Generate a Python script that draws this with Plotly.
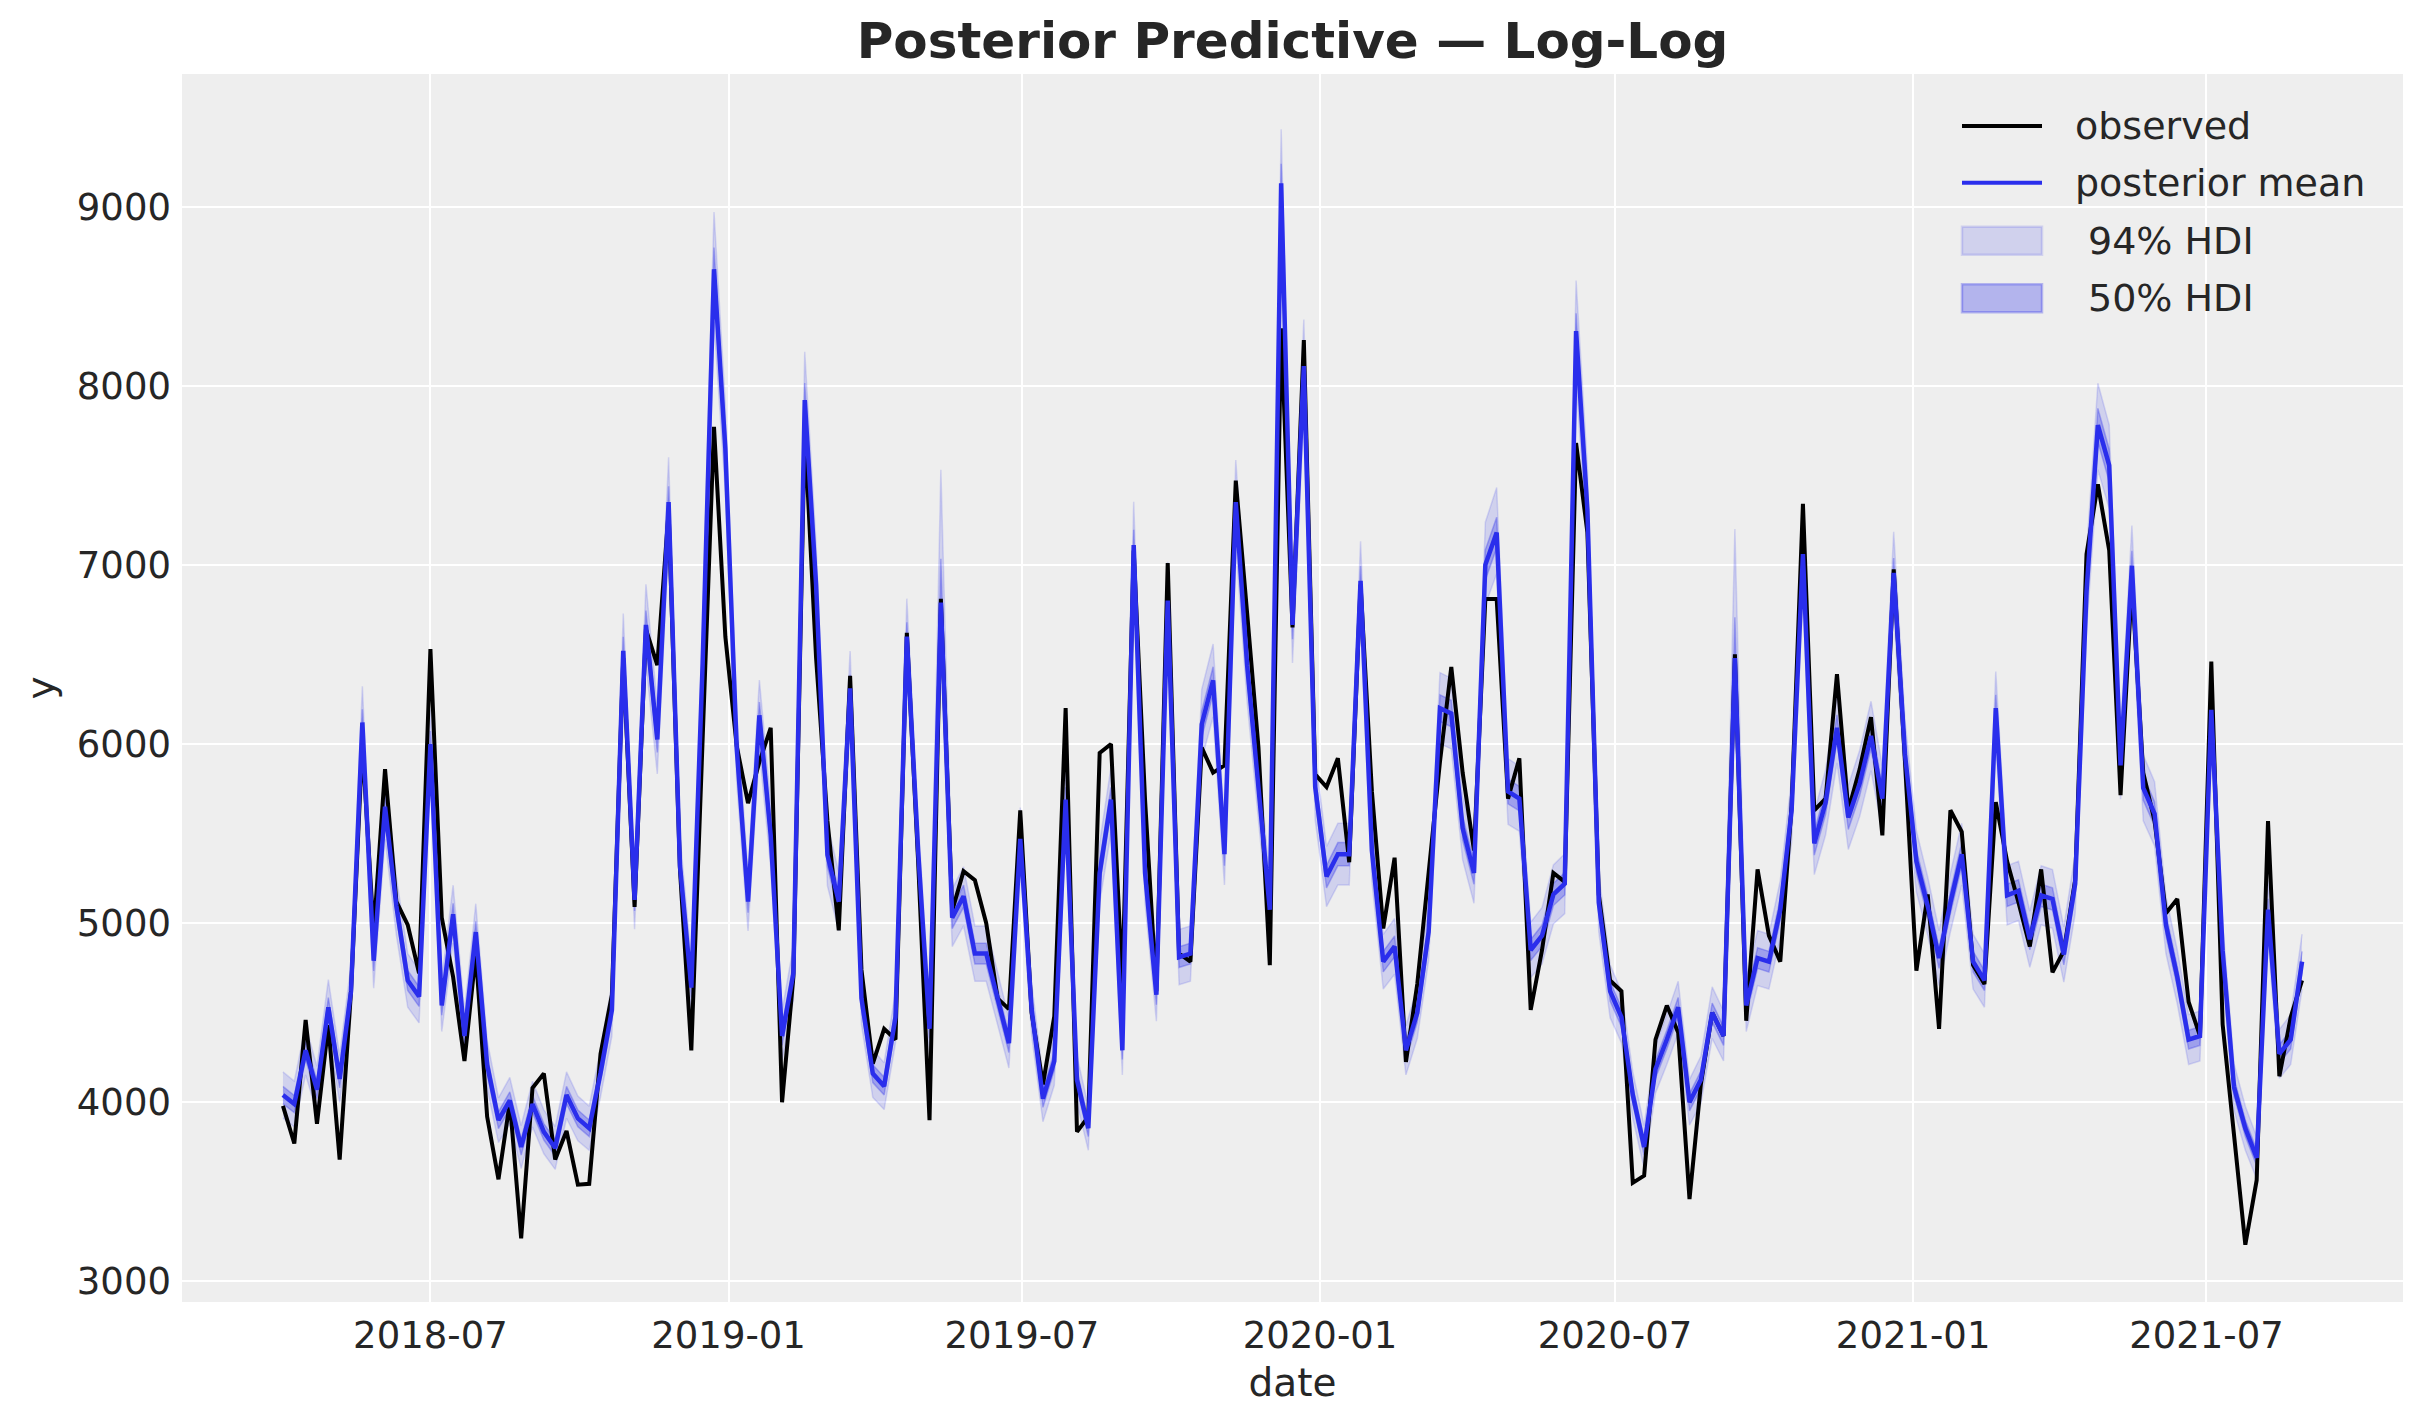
import pandas as pd
import plotly.graph_objects as go

# ---------------- data ----------------
start_date = "2018-04-01"          # weekly (Sundays)
n_weeks = 179

observed = [
    3980, 3770, 4460, 3880, 4430, 3680, 4620, 6000, 4950, 5860,
    5120, 4990, 4720, 6530, 5030, 4700, 4230, 4830, 3920, 3570,
    4000, 3240, 4080, 4160, 3680, 3840, 3540, 3545, 4270, 4600,
    6480, 5090, 6640, 6440, 7300, 5300, 4290, 6000, 7770, 6600,
    5990, 5670, 5900, 6090, 4000, 4700, 7750, 6480, 5570, 4960,
    6380, 4740, 4215, 4410, 4350, 6620, 5340, 3900, 6810, 5070,
    5290, 5240, 5000, 4580, 4520, 5630, 4500, 4100, 4480, 6200,
    3835, 3920, 5950, 6000, 4660, 7080, 5690, 4620, 7010, 4830,
    4785, 5980, 5840, 5880, 7470, 6730, 5980, 4765, 8320, 6650,
    8255, 5830, 5760, 5920, 5340, 6890, 5735, 4970, 5365, 4225,
    4660, 5280, 5900, 6430, 5840, 5405, 6810, 6810, 5695, 5920,
    4515, 4850, 5280, 5230, 7680, 7180, 5160, 4680, 4620, 3550,
    3590, 4350, 4540, 4390, 3460, 4100, 4500, 4370, 6500, 4455,
    5300, 4930, 4785, 5655, 7340, 5630, 5695, 6390, 5630, 5860,
    6150, 5490, 6975, 5900, 4735, 5160, 4410, 5630, 5510, 4765,
    4660, 5675, 5345, 5115, 4870, 5300, 4725, 4845, 5240, 7060,
    7450, 7080, 5715, 6895, 5840, 5570, 5055, 5135, 4560, 4370,
    6460, 4435, 3815, 3205, 3565, 5570, 4145, 4475, 4680,
]

posterior_mean = [
    4040, 3990, 4290, 4070, 4530, 4130, 4620, 6120, 4790, 5650,
    5095, 4680, 4590, 6000, 4540, 5050, 4370, 4950, 4210, 3900,
    4010, 3750, 3990, 3835, 3745, 4040, 3910, 3855, 4165, 4515,
    6520, 5130, 6665, 6025, 7350, 5320, 4640, 6450, 8650, 7650,
    5980, 5120, 6160, 5490, 4370, 4720, 7920, 6890, 5380, 5120,
    6310, 4580, 4160, 4090, 4475, 6600, 5400, 4410, 6790, 5030,
    5150, 4830, 4830, 4580, 4330, 5470, 4520, 4020, 4230, 5690,
    4125, 3855, 5280, 5690, 4290, 7110, 5280, 4600, 6800, 4810,
    4830, 6110, 6355, 5385, 7350, 6440, 5735, 5075, 9130, 6665,
    8110, 5760, 5260, 5385, 5385, 6910, 5405, 4785, 4870, 4290,
    4500, 4950, 6200, 6170, 5530, 5280, 7000, 7180, 5735, 5695,
    4850, 4930, 5160, 5220, 8305, 7305, 5115, 4620, 4475, 4040,
    3750, 4185, 4350, 4530, 4000, 4125, 4500, 4370, 6480, 4540,
    4805, 4785, 5075, 5630, 7060, 5445, 5675, 6090, 5590, 5780,
    6045, 5695, 6955, 5940, 5345, 5095, 4805, 5115, 5385, 4785,
    4680, 6200, 5155, 5180, 4910, 5155, 5135, 4825, 5220, 6850,
    7780, 7555, 5880, 6995, 5755, 5610, 4990, 4700, 4350, 4370,
    6190, 4845, 4085, 3855, 3690, 5075, 4270, 4350, 4785,
]

# HDI widths, in percent of the posterior mean (upper / lower side)
hdi94_upper_pct = [
    3.2, 3.2, 3.2, 3.2, 3.4, 3.2, 3.2, 3.3, 3.2, 3.2,
    3.2, 3.2, 3.2, 3.2, 3.2, 3.2, 3.2, 3.2, 3.2, 3.2,
    3.2, 3.2, 3.2, 3.2, 3.2, 3.2, 3.2, 3.2, 3.2, 3.2,
    3.2, 3.2, 3.4, 3.2, 3.4, 3.2, 3.2, 3.2, 3.7, 3.2,
    3.2, 3.2, 3.2, 3.2, 3.2, 3.2, 3.4, 3.2, 3.2, 3.2,
    3.3, 3.2, 3.2, 3.2, 3.2, 3.2, 3.2, 3.2, 10.9, 3.2,
    3.2, 3.2, 3.2, 3.2, 3.2, 3.2, 3.2, 3.2, 3.2, 3.2,
    3.2, 3.2, 3.2, 3.2, 3.2, 3.4, 3.2, 3.2, 3.2, 3.2,
    3.2, 3.2, 3.2, 3.2, 3.2, 3.2, 3.2, 3.2, 3.3, 3.2,
    3.2, 3.2, 3.2, 3.2, 3.2, 3.2, 3.2, 3.2, 3.2, 3.2,
    3.2, 3.2, 3.2, 3.2, 3.2, 3.2, 3.4, 3.5, 3.2, 3.2,
    3.2, 3.2, 3.2, 3.2, 3.4, 3.2, 3.2, 3.2, 3.2, 3.2,
    3.2, 3.2, 3.2, 3.2, 3.2, 3.2, 3.2, 3.2, 11.1, 3.2,
    3.2, 3.2, 3.2, 3.2, 3.2, 3.2, 3.2, 3.2, 3.2, 3.2,
    3.2, 3.2, 3.3, 3.2, 3.2, 3.2, 3.2, 3.2, 3.2, 3.2,
    3.2, 3.3, 3.2, 3.2, 3.2, 3.2, 3.2, 3.2, 3.2, 3.2,
    3.0, 3.0, 3.2, 3.2, 3.2, 3.2, 3.2, 3.2, 3.2, 3.2,
    3.2, 3.2, 3.2, 3.2, 3.2, 3.2, 3.2, 3.2, 3.2,
]
hdi94_lower_pct = [
    3.2, 3.2, 3.2, 3.2, 3.2, 3.2, 3.2, 3.2, 3.2, 3.2,
    3.2, 3.2, 3.2, 3.2, 3.2, 3.2, 3.2, 3.2, 3.2, 3.2,
    3.2, 3.2, 3.2, 3.2, 3.2, 3.2, 3.2, 3.2, 3.2, 3.2,
    3.2, 3.2, 3.2, 3.2, 3.2, 3.2, 3.2, 3.2, 3.4, 3.2,
    3.2, 3.2, 3.2, 3.2, 3.2, 3.2, 3.2, 3.2, 3.2, 3.2,
    3.2, 3.2, 3.2, 3.2, 3.2, 3.2, 3.2, 3.2, 3.6, 3.2,
    3.2, 3.2, 3.2, 3.2, 3.2, 3.2, 3.2, 3.2, 3.2, 3.2,
    3.2, 3.2, 3.2, 3.2, 3.2, 3.2, 3.2, 3.2, 3.2, 3.2,
    3.2, 3.2, 3.2, 3.2, 3.2, 3.2, 3.2, 3.2, 3.2, 3.2,
    3.2, 3.2, 3.2, 3.2, 3.2, 3.2, 3.2, 3.2, 3.2, 3.2,
    3.2, 3.2, 3.2, 3.2, 3.2, 3.2, 3.2, 3.2, 3.2, 3.2,
    3.2, 3.2, 3.2, 3.2, 3.2, 3.2, 3.2, 3.2, 3.2, 3.2,
    3.2, 3.2, 3.2, 3.2, 3.2, 3.2, 3.2, 3.2, 3.6, 3.2,
    3.2, 3.2, 3.2, 3.2, 3.2, 3.2, 3.2, 3.2, 3.2, 3.2,
    3.2, 3.2, 3.2, 3.2, 3.2, 3.2, 3.2, 3.2, 3.2, 3.2,
    3.2, 3.2, 3.2, 3.2, 3.2, 3.2, 3.2, 3.2, 3.2, 3.2,
    3.2, 3.2, 3.2, 3.2, 3.2, 3.2, 3.2, 3.2, 3.2, 3.2,
    3.2, 3.2, 3.2, 3.2, 3.2, 3.2, 3.2, 3.2, 3.2,
]
hdi50_upper_pct = [
    1.2, 1.2, 1.2, 1.2, 1.2, 1.2, 1.2, 1.2, 1.2, 1.2,
    1.2, 1.2, 1.2, 1.2, 1.2, 1.2, 1.2, 1.2, 1.2, 1.2,
    1.2, 1.2, 1.2, 1.2, 1.2, 1.2, 1.2, 1.2, 1.2, 1.2,
    1.2, 1.2, 1.2, 1.2, 1.2, 1.2, 1.2, 1.2, 1.4, 1.2,
    1.2, 1.2, 1.2, 1.2, 1.2, 1.2, 1.2, 1.2, 1.2, 1.2,
    1.2, 1.2, 1.2, 1.2, 1.2, 1.2, 1.2, 1.2, 3.6, 1.2,
    1.2, 1.2, 1.2, 1.2, 1.2, 1.2, 1.2, 1.2, 1.2, 1.2,
    1.2, 1.2, 1.2, 1.2, 1.2, 1.2, 1.2, 1.2, 1.2, 1.2,
    1.2, 1.2, 1.2, 1.2, 1.2, 1.2, 1.2, 1.2, 1.2, 1.2,
    1.2, 1.2, 1.2, 1.2, 1.2, 1.2, 1.2, 1.2, 1.2, 1.2,
    1.2, 1.2, 1.2, 1.2, 1.2, 1.2, 1.2, 1.2, 1.2, 1.2,
    1.2, 1.2, 1.2, 1.2, 1.2, 1.2, 1.2, 1.2, 1.2, 1.2,
    1.2, 1.2, 1.2, 1.2, 1.2, 1.2, 1.2, 1.2, 3.5, 1.2,
    1.2, 1.2, 1.2, 1.2, 1.2, 1.2, 1.2, 1.2, 1.2, 1.2,
    1.2, 1.2, 1.2, 1.2, 1.2, 1.2, 1.2, 1.2, 1.2, 1.2,
    1.2, 1.2, 1.2, 1.2, 1.2, 1.2, 1.2, 1.2, 1.2, 1.2,
    1.2, 1.2, 1.2, 1.2, 1.2, 1.2, 1.2, 1.2, 1.2, 1.2,
    1.2, 1.2, 1.2, 1.2, 1.2, 1.2, 1.2, 1.2, 1.2,
]
hdi50_lower_pct = [
    1.2, 1.2, 1.2, 1.2, 1.2, 1.2, 1.2, 1.2, 1.2, 1.2,
    1.2, 1.2, 1.2, 1.2, 1.2, 1.2, 1.2, 1.2, 1.2, 1.2,
    1.2, 1.2, 1.2, 1.2, 1.2, 1.2, 1.2, 1.2, 1.2, 1.2,
    1.2, 1.2, 1.2, 1.2, 1.2, 1.2, 1.2, 1.2, 1.2, 1.2,
    1.2, 1.2, 1.2, 1.2, 1.2, 1.2, 1.2, 1.2, 1.2, 1.2,
    1.2, 1.2, 1.2, 1.2, 1.2, 1.2, 1.2, 1.2, 1.2, 1.2,
    1.2, 1.2, 1.2, 1.2, 1.2, 1.2, 1.2, 1.2, 1.2, 1.2,
    1.2, 1.2, 1.2, 1.2, 1.2, 1.2, 1.2, 1.2, 1.2, 1.2,
    1.2, 1.2, 1.2, 1.2, 1.2, 1.2, 1.2, 1.2, 1.2, 1.2,
    1.2, 1.2, 1.2, 1.2, 1.2, 1.2, 1.2, 1.2, 1.2, 1.2,
    1.2, 1.2, 1.2, 1.2, 1.2, 1.2, 1.2, 1.2, 1.2, 1.2,
    1.2, 1.2, 1.2, 1.2, 1.2, 1.2, 1.2, 1.2, 1.2, 1.2,
    1.2, 1.2, 1.2, 1.2, 1.2, 1.2, 1.2, 1.2, 1.2, 1.2,
    1.2, 1.2, 1.2, 1.2, 1.2, 1.2, 1.2, 1.2, 1.2, 1.2,
    1.2, 1.2, 1.2, 1.2, 1.2, 1.2, 1.2, 1.2, 1.2, 1.2,
    1.2, 1.2, 1.2, 1.2, 1.2, 1.2, 1.2, 1.2, 1.2, 1.2,
    1.2, 1.2, 1.2, 1.2, 1.2, 1.2, 1.2, 1.2, 1.2, 1.2,
    1.2, 1.2, 1.2, 1.2, 1.2, 1.2, 1.2, 1.2, 1.2,
]

y_tick_values = [3000, 4000, 5000, 6000, 7000, 8000, 9000]
legend_labels = ["observed", "posterior mean", "94% HDI", "50% HDI"]

# ---------------- derived ----------------
dates = pd.date_range(start_date, periods=n_weeks, freq="W-SUN")
hdi94_hi = [m * (1 + p / 100) for m, p in zip(posterior_mean, hdi94_upper_pct)]
hdi94_lo = [m * (1 - p / 100) for m, p in zip(posterior_mean, hdi94_lower_pct)]
hdi50_hi = [m * (1 + p / 100) for m, p in zip(posterior_mean, hdi50_upper_pct)]
hdi50_lo = [m * (1 - p / 100) for m, p in zip(posterior_mean, hdi50_lower_pct)]

BLUE = "#2a2eec"
BAND94 = "rgba(42,46,236,0.15)"
BAND50 = "rgba(42,46,236,0.3)"
FONT = "DejaVu Sans"
TXT = "#262626"

W, H = 2423, 1423
ML, MR, MT, MB = 182, 20, 74, 121
PW, PH = W - ML - MR, H - MT - MB


def px_x(px):
    return (px - ML) / PW


def px_y(py):
    return 1 - (py - MT) / PH


fig = go.Figure()

# 94% HDI band
fig.add_trace(go.Scatter(x=dates, y=hdi94_lo, mode="lines",
                         line=dict(color=BAND94, width=1.5),
                         showlegend=False, hoverinfo="skip"))
fig.add_trace(go.Scatter(x=dates, y=hdi94_hi, mode="lines", fill="tonexty",
                         fillcolor=BAND94, line=dict(color=BAND94, width=1.5),
                         name="94% HDI", showlegend=False))
# 50% HDI band
fig.add_trace(go.Scatter(x=dates, y=hdi50_lo, mode="lines",
                         line=dict(color=BAND50, width=1.5),
                         showlegend=False, hoverinfo="skip"))
fig.add_trace(go.Scatter(x=dates, y=hdi50_hi, mode="lines", fill="tonexty",
                         fillcolor=BAND50, line=dict(color=BAND50, width=1.5),
                         name="50% HDI", showlegend=False))
# observed
fig.add_trace(go.Scatter(x=dates, y=observed, mode="lines",
                         line=dict(color="black", width=4),
                         name="observed", showlegend=False))
# posterior mean
fig.add_trace(go.Scatter(x=dates, y=posterior_mean, mode="lines",
                         line=dict(color=BLUE, width=4.5),
                         name="posterior mean", showlegend=False))

# ---- legend (drawn as shapes + text, matching matplotlib's layout) ----
hx0, hx1, tx = 1962, 2042, 2073
rows = [126, 182.7, 240.7, 298.3]
shapes = [
    dict(type="line", xref="paper", yref="paper", x0=px_x(hx0), x1=px_x(hx1),
         y0=px_y(rows[0]), y1=px_y(rows[0]), line=dict(color="black", width=4)),
    dict(type="line", xref="paper", yref="paper", x0=px_x(hx0), x1=px_x(hx1),
         y0=px_y(rows[1]), y1=px_y(rows[1]), line=dict(color=BLUE, width=4)),
    dict(type="rect", xref="paper", yref="paper", x0=px_x(hx0), x1=px_x(hx1),
         y0=px_y(rows[2] - 14), y1=px_y(rows[2] + 14),
         fillcolor=BAND94, line=dict(color=BAND94, width=2.5)),
    dict(type="rect", xref="paper", yref="paper", x0=px_x(hx0), x1=px_x(hx1),
         y0=px_y(rows[3] - 14), y1=px_y(rows[3] + 14),
         fillcolor=BAND50, line=dict(color=BAND50, width=2.5)),
]
text_x = [tx, tx, tx + 13, tx + 13]
annotations = [
    dict(text=lab, xref="paper", yref="paper", x=px_x(x0), y=px_y(ry),
         xanchor="left", yanchor="middle", showarrow=False,
         font=dict(family=FONT, size=38, color=TXT))
    for lab, x0, ry in zip(legend_labels, text_x, rows)
]

pad = (dates[-1] - dates[0]) * 0.05
x_range = [dates[0] - pad, dates[-1] + pad]

fig.update_layout(
    width=W, height=H,
    margin=dict(l=ML, r=MR, t=MT, b=MB, pad=0),
    paper_bgcolor="white",
    plot_bgcolor="#eeeeee",
    font=dict(family=FONT, color=TXT, size=37),
    title=dict(text="Posterior Predictive — Log-Log",
               font=dict(family=FONT, size=50, color=TXT, weight=700),
               x=0.5, xref="paper", xanchor="center",
               y=1 - 40 / H, yref="container", yanchor="middle"),
    showlegend=False,
    shapes=shapes,
    annotations=annotations,
)
fig.update_xaxes(range=x_range, type="date", dtick="M6", tick0="2018-01-01",
                 tickformat="%Y-%m", showgrid=True, gridcolor="white", gridwidth=2,
                 zeroline=False, showline=False, ticks="", ticklabelstandoff=8,
                 tickfont=dict(family=FONT, size=37, color=TXT),
                 title=dict(text="date", font=dict(family=FONT, size=39, color=TXT),
                            standoff=12))
fig.update_yaxes(range=[2885, 9740], tickvals=y_tick_values,
                 showgrid=True, gridcolor="white", gridwidth=2,
                 zeroline=False, showline=False, ticks="", ticklabelstandoff=10,
                 tickfont=dict(family=FONT, size=37, color=TXT),
                 title=dict(text="y", font=dict(family=FONT, size=39, color=TXT),
                            standoff=10))

fig.write_html("out.html", config={"displayModeBar": False},
               post_script="document.body.style.margin='0';document.body.style.overflow='hidden';")
